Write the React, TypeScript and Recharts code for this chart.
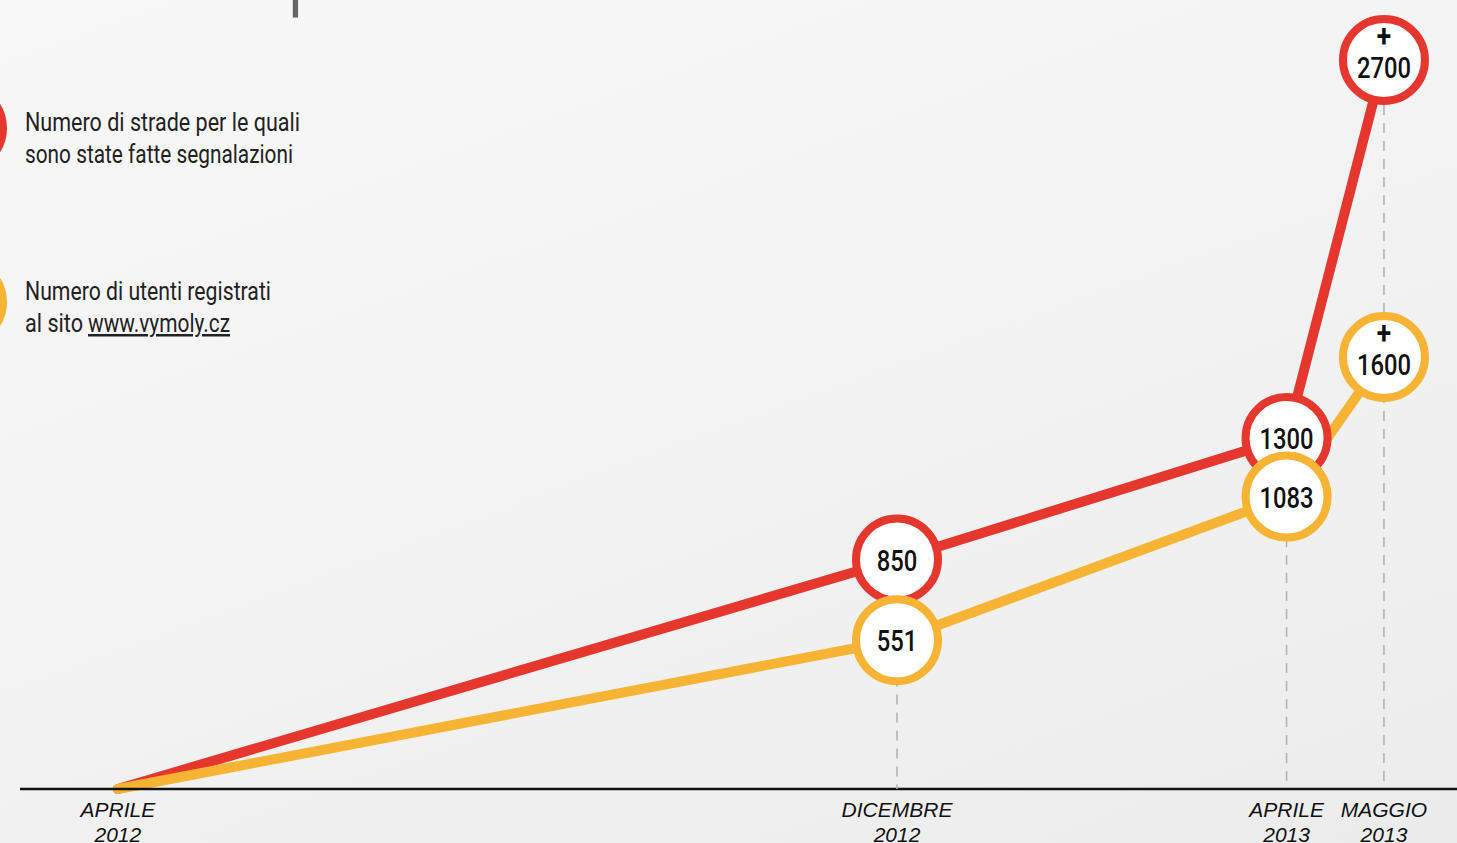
import React from "react";
import { LineChart, Line, XAxis, YAxis } from "recharts";

const months = [0, 8, 12, 13];
const tickTop = ["APRILE", "DICEMBRE", "APRILE", "MAGGIO"];
const tickBottom = ["2012", "2012", "2013", "2013"];
const streets = [0, 850, 1300, 2700];
const users = [0, 551, 1083, 1600];

const RED = "#e6372f";
const ORANGE = "#f7b334";
const W = 1457;
const H = 843;
const AXIS_H = 54;
const BASELINE = H - AXIS_H;
const R = 41;
const COND = "Roboto, 'Liberation Sans', sans-serif";

const data = months.map((m, i) => ({ m, streets: streets[i], users: users[i] }));

function makeDot(color: string, withGuide: boolean) {
  return (props: any) => {
    const { cx, cy, index, value } = props;
    if (index === 0 || cx == null || cy == null) return <g key={`d-${color}-${index}`} />;
    const last = index === data.length - 1;
    return (
      <g key={`d-${color}-${index}`}>
        {withGuide && (
          <line x1={cx} x2={cx} y1={cy + R + 4} y2={BASELINE} stroke="#b0b0b0" strokeWidth={1.5} strokeDasharray="10 8" />
        )}
        <circle cx={cx} cy={cy} r={R} fill="#ffffff" stroke={color} strokeWidth={8} />
        <g transform={`translate(${cx},${cy}) scale(0.82,1)`}>
          {last ? (
            <>
              <text x={0} y={-13} textAnchor="middle" fontFamily={COND} fontWeight={700} fontSize={32} fill="#111">+</text>
              <text x={0} y={18} textAnchor="middle" fontFamily={COND} fontWeight={500} fontSize={29} fill="#111">{value}</text>
            </>
          ) : (
            <text x={0} y={11} textAnchor="middle" fontFamily={COND} fontWeight={500} fontSize={29} fill="#111">{value}</text>
          )}
        </g>
      </g>
    );
  };
}

const Tick = (props: any) => {
  const { x, y, payload } = props;
  const i = months.indexOf(payload.value);
  return (
    <g>
      <text x={x} y={y + 26} textAnchor="middle" fontFamily="'Liberation Sans', Arial, sans-serif" fontStyle="italic" fontSize={21} fill="#111">{tickTop[i]}</text>
      <text x={x} y={y + 51} textAnchor="middle" fontFamily="'Liberation Sans', Arial, sans-serif" fontStyle="italic" fontSize={21} fill="#111">{tickBottom[i]}</text>
    </g>
  );
};

export default function App() {
  return (
    <div style={{ position: "absolute", left: 0, top: 0, width: W, height: H, overflow: "hidden", background: "linear-gradient(160deg, #f8f8f8 0%, #f2f2f2 55%, #ececec 100%)" }}>
      <LineChart width={W} height={H} data={data} margin={{ top: 60, right: 0, bottom: 0, left: 20 }}>
        <XAxis
          dataKey="m"
          type="number"
          domain={[-1.005, 13.75]}
          ticks={months}
          tick={<Tick />}
          tickLine={false}
          tickSize={0}
          height={AXIS_H}
          axisLine={{ stroke: "#111", strokeWidth: 2.5 }}
          interval={0}
        />
        <YAxis hide domain={[0, 2700]} />
        <Line dataKey="streets" stroke={RED} strokeWidth={10} strokeLinecap="round" strokeLinejoin="round" dot={makeDot(RED, true)} activeDot={false} isAnimationActive={false} />
        <Line dataKey="users" stroke={ORANGE} strokeWidth={10} strokeLinecap="round" strokeLinejoin="round" dot={makeDot(ORANGE, false)} activeDot={false} isAnimationActive={false} />
      </LineChart>
      <svg width={W} height={H} style={{ position: "absolute", left: 0, top: 0, pointerEvents: "none" }}>
        <text x={286} y={-1} fontFamily="Roboto, sans-serif" fontWeight={300} fontSize={90} fill="#666">p</text>
        <circle cx={-38} cy={128} r={R} fill="#fff" stroke={RED} strokeWidth={8} />
        <circle cx={-38} cy={302} r={R} fill="#fff" stroke={ORANGE} strokeWidth={8} />
        <g fontFamily={COND} fontSize={25} fill="#222">
          <text x={25} y={131} textLength={275} lengthAdjust="spacingAndGlyphs">Numero di strade per le quali</text>
          <text x={25} y={163} textLength={268} lengthAdjust="spacingAndGlyphs">sono state fatte segnalazioni</text>
          <text x={25} y={300} textLength={246} lengthAdjust="spacingAndGlyphs">Numero di utenti registrati</text>
          <text x={25} y={332} textLength={58} lengthAdjust="spacingAndGlyphs">al sito</text>
          <text x={88} y={332} textLength={142} lengthAdjust="spacingAndGlyphs" textDecoration="underline">www.vymoly.cz</text>
        </g>
      </svg>
    </div>
  );
}
